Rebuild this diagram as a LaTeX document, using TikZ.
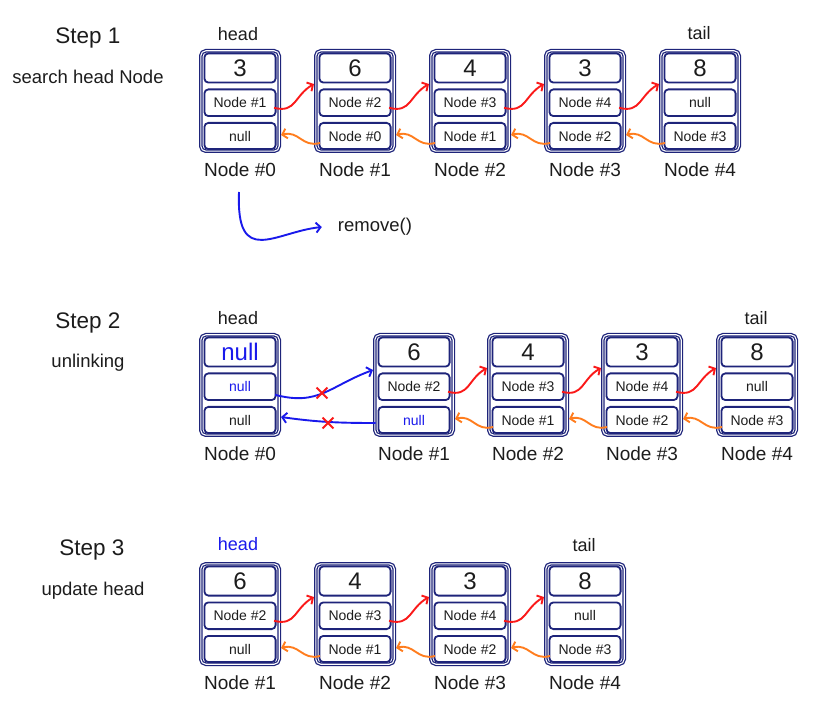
\documentclass[tikz,border=0pt]{standalone}
\usepackage{fontspec}
\setmainfont{Liberation Sans}
\usetikzlibrary{arrows.meta,shapes.misc}

\definecolor{navy}{RGB}{30,36,122}
\definecolor{ptrred}{RGB}{250,25,25}
\definecolor{ptrorange}{RGB}{255,125,30}
\definecolor{ptrblue}{RGB}{25,25,235}
\definecolor{ink}{RGB}{28,28,28}

\tikzset{
  every node/.style={text=ink},
  outerbox/.style={draw=navy, line width=1.25pt, double=white, double distance=1.1pt,
    rounded corners=5pt, minimum width=78.4pt, minimum height=100.4pt,
    inner sep=0pt, outer sep=1.8pt},
  cell/.style={draw=navy, line width=1.8pt, rounded corners=4pt,
    minimum width=71.2pt, inner sep=0pt},
  valcell/.style={cell, minimum height=29.2pt, font=\fontsize{24}{24}\selectfont},
  nextcell/.style={cell, minimum height=26.7pt, font=\fontsize{14}{14}\selectfont},
  prevcell/.style={cell, minimum height=26.2pt, font=\fontsize{14}{14}\selectfont},
  nodelbl/.style={font=\fontsize{19}{19}\selectfont, inner sep=0pt},
  endlbl/.style={font=\fontsize{18}{18}\selectfont, inner sep=0pt},
  steptitle/.style={font=\fontsize{22.5}{22.5}\selectfont, inner sep=0pt},
  stepnote/.style={font=\fontsize{18.5}{18.5}\selectfont, inner sep=0pt},
  tip/.style={-{Straight Barb[length=4.5pt,width=10pt]}},
  fwd/.style={draw=ptrred, line width=1.9pt, tip},
  bwd/.style={draw=ptrorange, line width=1.9pt, tip},
  ulink/.style={draw=ptrblue, line width=1.9pt, tip},
  xmark/.style={cross out, draw=ptrred, line width=1.9pt, minimum size=9pt, inner sep=0pt},
}

% one list node: name, left x, top y, value, next, prev, caption
\newcommand\listnode[7]{%
  \node[outerbox] (#1) at (#2+41,-#3-52) {};
  \node[valcell]  (#1v) at (#2+41,-#3-19) {#4};
  \node[nextcell] (#1n) at (#2+41,-#3-53.75) {#5};
  \node[prevcell] (#1p) at (#2+41,-#3-87) {#6};
  \node[nodelbl]  (#1l) at (#2+41,-#3-121) {#7};
}

% next pointer of #1 to #2 and prev pointer of #2 back to #1
\newcommand\linkpair[2]{%
  \draw[fwd] ([shift={(-2.5pt,-5pt)}]#1n.east) to[out=-15,in=210,looseness=1.25] ([yshift=17pt]#2.west);
  \draw[bwd] ([shift={(1.5pt,-7pt)}]#2p.west) to[out=195,in=15,looseness=1.2] ([yshift=-34pt]#1.east);
}

\begin{document}
\begin{tikzpicture}[x=1pt,y=1pt]
\useasboundingbox (0,0) rectangle (817,-708);

% ---- step 1 ----
\node[steptitle] (s1) at (88,-38) {Step 1};
\node[stepnote] (s1n) at (88,-77) {search head Node};

\listnode{a0}{199}{49}{3}{Node \#1}{null}{Node \#0}
\listnode{a1}{314}{49}{6}{Node \#2}{Node \#0}{Node \#1}
\listnode{a2}{429}{49}{4}{Node \#3}{Node \#1}{Node \#2}
\listnode{a3}{544}{49}{3}{Node \#4}{Node \#2}{Node \#3}
\listnode{a4}{659}{49}{8}{null}{Node \#3}{Node \#4}
\node[endlbl] (ahead) at (238,-34) {head};
\node[endlbl] (atail) at (699,-33) {tail};
\linkpair{a0}{a1}
\linkpair{a1}{a2}
\linkpair{a2}{a3}
\linkpair{a3}{a4}

\node[stepnote] (rm) at (375,-227) {remove()};
\coordinate (rmstart) at (239,-192);
\draw[ulink] (rmstart) .. controls (236,-268) and (275,-232) .. ([xshift=-16pt]rm.west);

% ---- step 2 ----
\node[steptitle] (s2) at (88,-323) {Step 2};
\node[stepnote] (s2n) at (88,-363) {unlinking};

\listnode{b0}{199}{333}{\color{ptrblue}null}{\color{ptrblue}null}{null}{Node \#0}
\listnode{b1}{373}{333}{6}{Node \#2}{\color{ptrblue}null}{Node \#1}
\listnode{b2}{487}{333}{4}{Node \#3}{Node \#1}{Node \#2}
\listnode{b3}{601}{333}{3}{Node \#4}{Node \#2}{Node \#3}
\listnode{b4}{716}{333}{8}{null}{Node \#3}{Node \#4}
\node[endlbl] (bhead) at (238,-318) {head};
\node[endlbl] (btail) at (756,-318) {tail};
\linkpair{b1}{b2}
\linkpair{b2}{b3}
\linkpair{b3}{b4}

\draw[ulink] ([shift={(-1.5pt,-8pt)}]b0n.east) to[out=-15,in=200,looseness=1.15] ([yshift=15pt]b1.west);
\draw[ulink] ([shift={(-2pt,-3pt)}]b1p.west) to[out=180,in=-8] ([yshift=-32pt]b0.east);
\node[xmark] (cut1) at (322,-393) {};
\node[xmark] (cut2) at (328,-423) {};

% ---- step 3 ----
\node[steptitle] (s3) at (92,-550) {Step 3};
\node[stepnote] (s3n) at (93,-591) {update head};

\listnode{c1}{199}{562}{6}{Node \#2}{null}{Node \#1}
\listnode{c2}{314}{562}{4}{Node \#3}{Node \#1}{Node \#2}
\listnode{c3}{429}{562}{3}{Node \#4}{Node \#2}{Node \#3}
\listnode{c4}{544}{562}{8}{null}{Node \#3}{Node \#4}
\node[endlbl, text=ptrblue] (chead) at (238,-544) {head};
\node[endlbl] (ctail) at (584,-545) {tail};
\linkpair{c1}{c2}
\linkpair{c2}{c3}
\linkpair{c3}{c4}

\end{tikzpicture}
\end{document}
